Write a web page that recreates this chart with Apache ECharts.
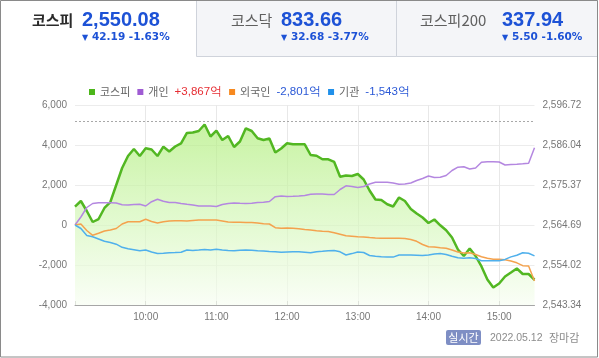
<!DOCTYPE html>
<html><head><meta charset="utf-8">
<script src="https://cdn.jsdelivr.net/npm/echarts@6/dist/echarts.min.js"></script>
<style>html,body{margin:0;padding:0;background:#fff}#c{width:599px;height:358px}</style>
</head><body><div id="c"></div>
<script>
const times = [
'09:00','09:05','09:10','09:15','09:20','09:25','09:30','09:35','09:40','09:45','09:50','09:55',
'10:00','10:05','10:10','10:15','10:20','10:25','10:30','10:35','10:40','10:45','10:50','10:55',
'11:00','11:05','11:10','11:15','11:20','11:25','11:30','11:35','11:40','11:45','11:50','11:55',
'12:00','12:05','12:10','12:15','12:20','12:25','12:30','12:35','12:40','12:45','12:50','12:55',
'13:00','13:05','13:10','13:15','13:20','13:25','13:30','13:35','13:40','13:45','13:50','13:55',
'14:00','14:05','14:10','14:15','14:20','14:25','14:30','14:35','14:40','14:45','14:50','14:55',
'15:00','15:05','15:10','15:15','15:20','15:25','15:30'];
const hourLabels = ['10:00','11:00','12:00','13:00','14:00','15:00'];
const tickTimes = ['09:00','10:00','11:00','12:00','13:00','14:00','15:00'];

const kospi = [
2569.58,2571.10,2568.43,2565.49,2566.29,2569.23,2570.83,2575.37,2579.91,2583.11,
2584.98,2583.11,2585.16,2584.84,2583.11,2585.59,2584.31,2585.64,2586.50,2589.25,
2589.38,2589.78,2591.52,2588.31,2589.86,2587.38,2588.45,2585.51,2586.98,2590.50,
2589.78,2587.83,2587.38,2587.78,2584.04,2585.11,2586.50,2586.23,2586.23,2586.23,
2583.38,2583.19,2582.23,2582.23,2581.51,2577.58,2577.90,2577.77,2578.30,2576.84,
2573.90,2571.50,2571.36,2570.22,2569.63,2572.03,2571.10,2568.96,2567.76,2566.69,
2565.23,2566.16,2564.61,2563.28,2561.36,2558.15,2556.42,2558.42,2556.42,2553.62,
2550.15,2548.01,2549.08,2550.95,2552.01,2553.08,2551.61,2551.61,2550.08];
const individual = [
0,400,875,1075,1115,1115,1115,1100,1010,1000,
1025,1040,950,1165,1285,1185,1125,1125,1075,1035,
1000,950,950,950,925,1025,1075,1100,1085,1075,
1085,1125,1140,1175,1415,1450,1425,1435,1450,1475,
1535,1550,1550,1525,1525,1775,1960,1925,1875,1925,
2050,2135,2135,2135,2100,2035,2050,2100,2225,2325,
2450,2375,2385,2475,2725,2890,2910,2800,2850,3135,
3165,3165,3150,3000,3025,3040,3060,3085,3867];
const foreign = [
0,50,-275,-515,-415,-300,-250,-175,50,165,
165,165,285,175,100,165,200,215,215,200,
225,250,250,250,250,200,150,135,135,125,
125,100,60,50,-135,-165,-150,-165,-190,-225,
-250,-285,-310,-330,-390,-465,-540,-560,-585,-605,
-630,-650,-665,-665,-665,-665,-675,-725,-815,-975,
-1085,-1095,-1135,-1160,-1250,-1350,-1400,-1390,-1475,-1585,
-1660,-1710,-1715,-1735,-1800,-1890,-2035,-2050,-2801];
const institution = [
0,-175,-525,-585,-700,-815,-875,-960,-1115,-1185,
-1235,-1285,-1250,-1350,-1425,-1410,-1390,-1380,-1365,-1250,
-1275,-1250,-1220,-1250,-1215,-1250,-1270,-1285,-1260,-1250,
-1260,-1285,-1300,-1320,-1335,-1365,-1350,-1340,-1335,-1360,
-1385,-1335,-1315,-1290,-1270,-1340,-1500,-1430,-1350,-1375,
-1525,-1565,-1590,-1605,-1605,-1500,-1500,-1500,-1510,-1530,
-1500,-1455,-1420,-1475,-1560,-1640,-1665,-1640,-1675,-1785,
-1785,-1790,-1790,-1720,-1595,-1515,-1390,-1415,-1543];

const prevClose = 2592.27;
const rightMin = 2543.34, rightMax = 2596.72, rightStep = 10.676;
const leftMin = -4000, leftMax = 6000, leftStep = 2000;

const seriesNames = ['코스피','개인','외국인','기관'];
const netTotals = ['', '+3,867억', '-2,801억', '-1,543억'];
const lineColors = ['#52b722','#b487e0','#f4a24e','#4fb0ec'];
const legendColors = ['#4cb61a','#9f5bd3','#f7891f','#2090ea'];

const tabNames = ['코스피','코스닥','코스피200'];
const tabValues = ['2,550.08','833.66','337.94'];
const tabChanges = ['42.19 -1.63%','32.68 -3.77%','5.50 -1.60%'];
const dateText = '2022.05.12';

const NUM = '"Liberation Sans", Arial, sans-serif';
const KR = '"Noto Sans CJK KR", sans-serif';
const BLUE = '#1d52d6';

const chart = echarts.init(document.getElementById('c'), null, {renderer:'canvas'});

const tabX = [[32,82],[231,281],[420,502]];
const graphics = [
  {type:'rect', shape:{x:196.5,y:0.5,width:200,height:56}, style:{fill:'#f4f5f8', stroke:'#cfd3db', lineWidth:1}, z:0},
  {type:'rect', shape:{x:396.5,y:0.5,width:201,height:56}, style:{fill:'#f4f5f8', stroke:'#cfd3db', lineWidth:1}, z:0},
  {type:'rect', shape:{x:0.5,y:0.5,width:597,height:356.5}, style:{fill:null, stroke:'#8a8a8a', lineWidth:1}, z:10},
];
tabNames.forEach((n,i)=>{
  graphics.push({type:'text', x:tabX[i][0], y:20, style:{text:n, fill: i===0?'#2b2b2b':'#5f5f5f', font:(i===0?'bold ':'')+'15px '+KR, verticalAlign:'middle'}, z:5});
  graphics.push({type:'text', x:tabX[i][1], y:20, style:{text:tabValues[i], fill:BLUE, font:'bold 20px '+NUM, verticalAlign:'middle'}, z:5});
  graphics.push({type:'text', x:tabX[i][1], y:37.5, style:{text:'▼', fill:BLUE, font:'8px "DejaVu Sans", sans-serif', verticalAlign:'middle'}, z:5});
  graphics.push({type:'text', x:tabX[i][1]+10, y:37.5, style:{text:tabChanges[i], fill:BLUE, font:'bold 10.5px "DejaVu Sans", sans-serif', verticalAlign:'middle'}, z:5});
});
graphics.push({type:'rect', shape:{x:446,y:330,width:35,height:15,r:2}, style:{fill:'#7e8ec4'}, z:5});
graphics.push({type:'text', x:463.5, y:337.5, style:{text:'실시간', fill:'#fff', font:'11px '+KR, align:'center', verticalAlign:'middle'}, z:6});
graphics.push({type:'text', x:490, y:338, style:{text:dateText, fill:'#8c8c8c', font:'10.5px '+NUM, verticalAlign:'middle'}, z:5});
graphics.push({type:'text', x:549, y:338, style:{text:'장마감', fill:'#8c8c8c', font:'11px '+KR, verticalAlign:'middle'}, z:5});

const series = [
  {name:seriesNames[0], type:'line', yAxisIndex:1, data:kospi, symbol:'none', smooth:false,
   lineStyle:{color:lineColors[0], width:2.5}, itemStyle:{color:lineColors[0]},
   areaStyle:{origin:'start', color:new echarts.graphic.LinearGradient(0,0,0,1,[
     {offset:0,color:'#b0ed7c'},{offset:0.5,color:'#d3f6b7'},{offset:1,color:'#f7fdf2'}])},
   markLine:{silent:true, symbol:'none', label:{show:false}, animation:false,
     lineStyle:{type:[2,2], color:'#a8a8a8', width:1}, data:[{yAxis:prevClose}]},
   z:2},
  {name:seriesNames[1], type:'line', yAxisIndex:0, data:individual, symbol:'none', lineStyle:{color:lineColors[1], width:1.5}, itemStyle:{color:lineColors[1]}, z:3},
  {name:seriesNames[2], type:'line', yAxisIndex:0, data:foreign, symbol:'none', lineStyle:{color:lineColors[2], width:1.5}, itemStyle:{color:lineColors[2]}, z:3},
  {name:seriesNames[3], type:'line', yAxisIndex:0, data:institution, symbol:'none', lineStyle:{color:lineColors[3], width:1.5}, itemStyle:{color:lineColors[3]}, z:3},
];

const fmtNum = (v,d)=>Number(v).toLocaleString('en-US',{minimumFractionDigits:d,maximumFractionDigits:d});

chart.setOption({
  animation:false,
  textStyle:{fontFamily:NUM},
  grid:{left:75, right:64.5, top:105, bottom:53, containLabel:false},
  legend:{
    left:84, top:81, icon:'rect', itemWidth:6, itemHeight:6, itemGap:7,
    data: seriesNames.map((n,i)=>({name:n, itemStyle:{color:legendColors[i]}})),
    formatter: name=>{
      const i = seriesNames.indexOf(name);
      if (!netTotals[i]) return '{n|'+name+'}';
      return '{n|'+name+'}{'+(netTotals[i][0]==='+'?'p':'m')+'|'+netTotals[i]+'}';
    },
    textStyle:{rich:{
      n:{fontFamily:KR, fontSize:11, color:'#666'},
      p:{fontFamily:NUM, fontSize:11.5, color:'#e62d33', padding:[0,0,0,6]},
      m:{fontFamily:NUM, fontSize:11.5, color:'#2a58d6', padding:[0,0,0,6]}
    }},
    selectedMode:false
  },
  xAxis:{type:'category', data:times, boundaryGap:false,
    axisLine:{show:true, onZero:false, lineStyle:{color:'#a6a6a6', width:1}},
    axisTick:{show:true, inside:true, length:4, interval:(i,v)=>tickTimes.includes(v), lineStyle:{color:'#a6a6a6'}},
    axisLabel:{interval:(i,v)=>hourLabels.includes(v), color:'#777', fontSize:10, margin:7, fontFamily:NUM},
    splitLine:{show:true, interval:(i,v)=>hourLabels.includes(v), lineStyle:{color:'#e8e8e8', width:1}}
  },
  yAxis:[
    {type:'value', min:leftMin, max:leftMax, interval:leftStep, position:'left',
     axisLine:{show:false}, axisTick:{show:false},
     axisLabel:{color:'#777', fontSize:10, margin:8, fontFamily:NUM, formatter:v=>fmtNum(v,0)},
     splitLine:{show:true, lineStyle:{color:'#ececec', width:1}}},
    {type:'value', min:rightMin, max:rightMax, interval:rightStep, position:'right', alignTicks:false,
     axisLine:{show:false}, axisTick:{show:false},
     axisLabel:{color:'#777', fontSize:10, margin:8, fontFamily:NUM, formatter:v=>fmtNum(v,2)},
     splitLine:{show:false}}
  ],
  series: series,
  graphic: graphics
});
</script></body></html>
